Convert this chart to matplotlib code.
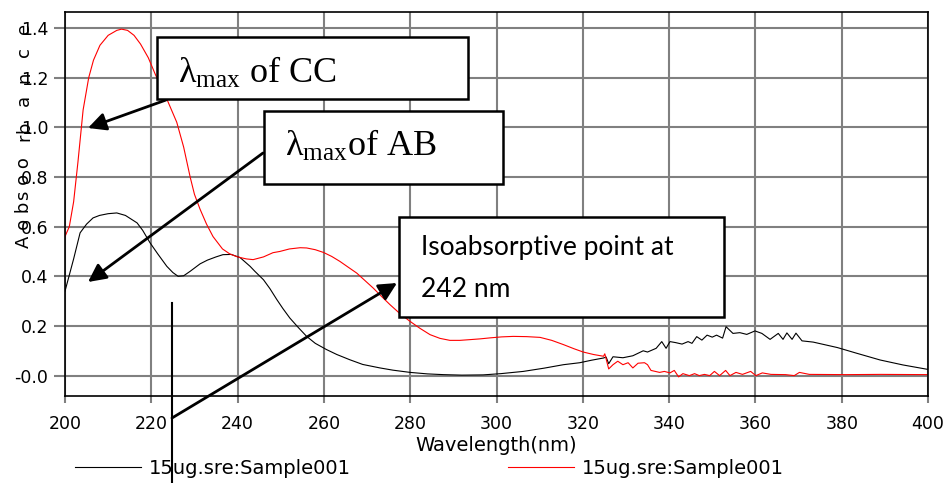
import matplotlib
matplotlib.use("Agg")
import matplotlib.pyplot as plt
from matplotlib.patches import Rectangle
from matplotlib.lines import Line2D

# series AB (black) - wavelength (nm) and absorbance
wl_ab = [200, 202, 203.5, 205, 206.5, 208, 210, 212, 214, 216.7, 218, 219.7, 221.5,
         223.6, 225, 226.2, 227.5, 229, 231.3, 233, 235, 236.6, 238.5, 240.6, 242.9,
         244, 246, 247.5, 249.1, 250.5, 252.1, 254, 256, 258, 260.6, 263, 266, 269,
         273, 276, 280, 284, 287.7, 292, 296.9, 301, 306.2, 311, 315.5, 319.3, 322,
         324.8, 325.4, 326, 327, 329.3, 331.6, 334, 335, 337, 338.3, 339.3, 340.2,
         341.5, 343, 344.4, 345.3, 346.4, 347.6, 348.8, 350, 351, 352.4, 353.2, 354.8,
         356.4, 358, 359.9, 361.5, 363.4, 365.3, 366.4, 367.3, 368.5, 369.4, 370.8,
         373.4, 379, 383.5, 388.9, 394.2, 400]
abs_ab = [0.34, 0.47, 0.575, 0.61, 0.635, 0.645, 0.652, 0.655, 0.645, 0.615, 0.585, 0.535, 0.49,
          0.44, 0.415, 0.40, 0.402, 0.42, 0.45, 0.465, 0.478, 0.487, 0.488, 0.475, 0.44,
          0.42, 0.386, 0.35, 0.306, 0.27, 0.232, 0.195, 0.158, 0.13, 0.105, 0.085, 0.064, 0.045,
          0.031, 0.022, 0.013, 0.007, 0.004, 0.002, 0.003, 0.008, 0.017, 0.03, 0.044, 0.052, 0.062,
          0.071, 0.075, 0.048, 0.076, 0.072, 0.08, 0.1, 0.095, 0.11, 0.137, 0.11, 0.137,
          0.133, 0.127, 0.137, 0.13, 0.157, 0.143, 0.163, 0.155, 0.163, 0.151, 0.197, 0.17,
          0.173, 0.166, 0.18, 0.17, 0.146, 0.17, 0.146, 0.172, 0.146, 0.171, 0.14,
          0.135, 0.113, 0.09, 0.063, 0.043, 0.025]

# series CC (red)
wl_cc = [200, 201, 202, 203, 204.2, 205.5, 206.6, 208.1, 210, 212, 213.1, 214.5, 216, 217.5,
         219.3, 221, 222.7, 224.3, 225.9, 227.5, 229, 230, 231.3, 232.8, 234.3, 236.5, 238.2,
         240, 242, 243.6, 246, 248.2, 249.8, 252, 254.5, 256, 258, 259.9, 261.8, 263.7,
         265.6, 267.6, 269.5, 271.4, 273.3, 275.3, 277.6, 280, 282.3, 284.6, 286.9, 289.2,
         291.5, 293.9, 296.2, 298.5, 301.2, 303.9, 307, 310.1, 312.8, 315.5, 318, 320.1,
         322.5, 324.8, 325.1, 326, 327, 328.1, 329.3, 330.5, 331.6, 332.8, 334.3, 335,
         335.8, 337.8, 338.9, 340.2, 341.2, 342.2, 343.2, 344.7, 345.9, 347, 348.2, 349.4,
         350.5, 351.7, 353.1, 354.1, 355.5, 357, 358.9, 360.1, 361.6, 363.6, 367, 369,
         370.2, 372.5, 381, 389, 400]
abs_cc = [0.56, 0.60, 0.70, 0.86, 1.07, 1.20, 1.27, 1.33, 1.37, 1.39, 1.395, 1.39, 1.37, 1.335,
          1.28, 1.21, 1.15, 1.085, 1.02, 0.92, 0.80, 0.73, 0.67, 0.61, 0.56, 0.51, 0.49,
          0.478, 0.47, 0.467, 0.478, 0.495, 0.50, 0.51, 0.515, 0.514, 0.507, 0.496, 0.48, 0.46,
          0.437, 0.413, 0.383, 0.353, 0.32, 0.286, 0.25, 0.218, 0.19, 0.165, 0.15, 0.142,
          0.142, 0.145, 0.148, 0.152, 0.156, 0.158, 0.157, 0.154, 0.142, 0.125, 0.108, 0.095,
          0.085, 0.078, 0.088, 0.027, 0.044, 0.058, 0.044, 0.052, 0.031, 0.05, 0.052, 0.044,
          0.021, 0.013, 0.017, 0.011, 0.021, -0.005, 0.008, 0.0, 0.008, 0.0, 0.005, 0.0,
          0.017, 0.0, 0.021, 0.0, 0.013, 0.005, 0.017, 0.0, 0.011, 0.005, 0.004, 0.0,
          0.013, 0.005, 0.004, 0.005, 0.004]

series_label = "15ug.sre:Sample001"
x_ticks = [200, 220, 240, 260, 280, 300, 320, 340, 360, 380, 400]
y_ticks = [0.0, 0.2, 0.4, 0.6, 0.8, 1.0, 1.2, 1.4]
y_tick_labels = ["-0.0", "0.2", "0.4", "0.6", "0.8", "1.0", "1.2", "1.4"]

# scattered y-axis title pieces (as they sit in the picture, partly over the tick labels)
ylabel_parts = ["A o b", "s o o", "r", "b", "a", "n", "c", "e"]
ylabel_ypx = [225, 179, 137, 127, 100, 77, 52, 28]

W, H = 951, 483


def fx(x):
    return x / W


def fy(y):
    return 1 - y / H


fig = plt.figure(figsize=(9.51, 4.83), dpi=100)
ax = fig.add_axes([fx(65), fy(396), fx(928) - fx(65), fy(12) - fy(396)])

ax.plot(wl_ab, abs_ab, color="black", lw=0.8, label=series_label)
ax.plot(wl_cc, abs_cc, color="red", lw=0.8, label=series_label)

ax.set_xlim(200, 400)
ax.set_ylim(-0.082, 1.464)
ax.set_xticks(x_ticks)
ax.set_yticks(y_ticks)
ax.set_yticklabels(y_tick_labels)
ax.set_axisbelow(True)
ax.grid(True, color="#808080", lw=1.5)
ax.tick_params(axis="both", direction="out", color="#808080", width=1.5,
               labelsize=12.5, labelcolor="black")
ax.tick_params(axis="x", length=5, pad=9)
ax.tick_params(axis="y", length=8, pad=4)
for sp in ax.spines.values():
    sp.set_color("black")
    sp.set_linewidth(1.2)

ax.set_xlabel("Wavelength(nm)", fontsize=14)
ax.xaxis.set_label_coords(0.5, -0.105)

for part, yp in zip(ylabel_parts, ylabel_ypx):
    fig.text(fx(24), fy(yp), part, rotation=90, ha="center", va="center", fontsize=13)

# annotation boxes
boxes = [(157, 37, 468, 99), (264, 111, 503, 184), (399, 217, 724, 317)]
for x0, y0, x1, y1 in boxes:
    fig.add_artist(Rectangle((fx(x0), fy(y1)), fx(x1) - fx(x0), fy(y0) - fy(y1),
                             transform=fig.transFigure, fc="white", ec="black", lw=1.8, zorder=3))

fig.text(fx(178), fy(83), r"$\mathregular{\lambda_{max}}$ of CC", family="Liberation Serif",
         fontsize=26, va="baseline", zorder=4)
fig.text(fx(285), fy(156), r"$\mathregular{\lambda_{max}}$of AB", family="Liberation Serif",
         fontsize=26, va="baseline", zorder=4)
fig.text(fx(421), fy(255), "Isoabsorptive point at", family="Lato", fontsize=19,
         va="baseline", zorder=4)
fig.text(fx(421), fy(297), "242 nm", family="Lato", fontsize=19, va="baseline", zorder=4)

arrow_kw = dict(arrowstyle="-|>,head_length=0.6,head_width=0.3", color="black", lw=2,
                mutation_scale=18, shrinkA=0, shrinkB=0)
arrows = [((166, 100), (88, 128)), ((263, 153), (88, 282)), ((172, 418), (397, 283))]
for (tx, ty), (hx, hy) in arrows:
    ax.annotate("", xy=(hx, H - hy), xycoords="figure pixels",
                xytext=(tx, H - ty), textcoords="figure pixels",
                arrowprops=arrow_kw, annotation_clip=False)

fig.add_artist(Line2D([fx(172), fx(172)], [fy(303), fy(483)], transform=fig.transFigure,
                      color="black", lw=1.5))

fig.legend(loc="center left", bbox_to_anchor=(fx(75), fy(468)), ncol=2, frameon=False,
           fontsize=14, handlelength=3.4, handletextpad=0.4, columnspacing=8.1,
           borderpad=0, borderaxespad=0)

fig.savefig("out.png", dpi=100)
